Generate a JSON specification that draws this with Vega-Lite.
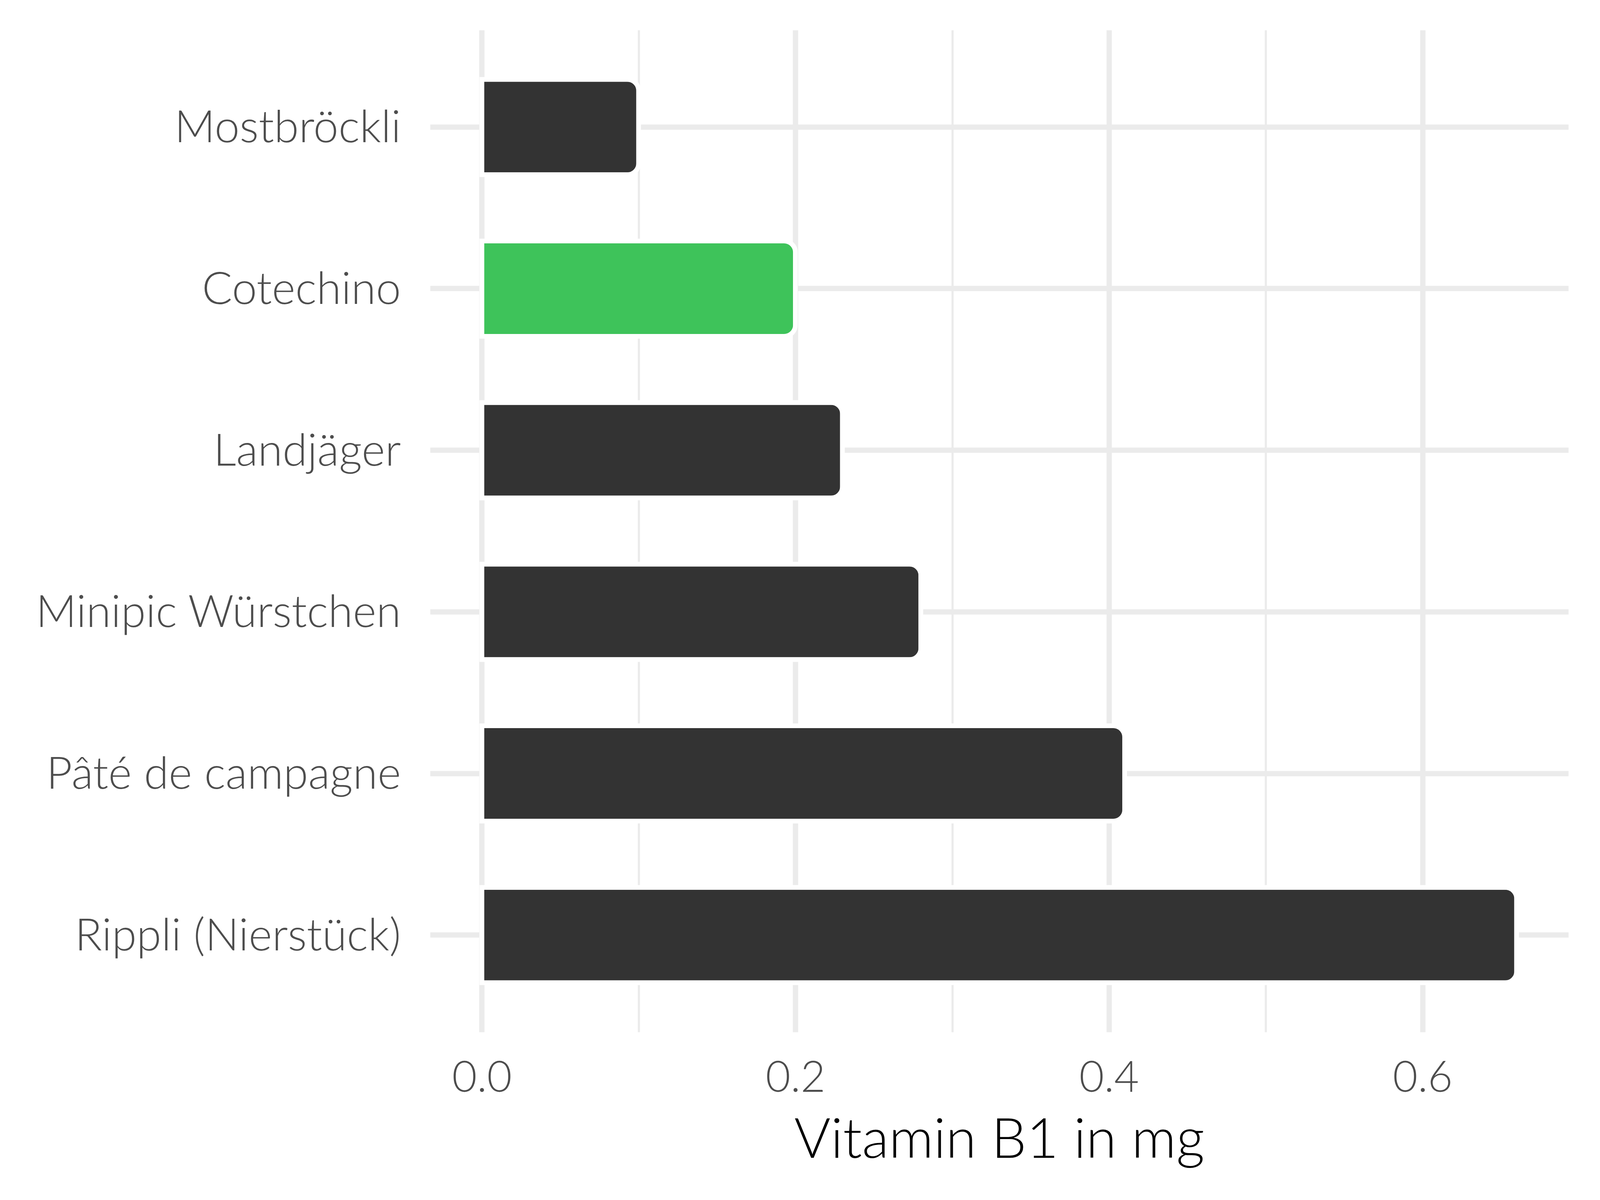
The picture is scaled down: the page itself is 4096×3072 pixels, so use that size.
{
  "$schema": "https://vega.github.io/schema/vega-lite/v6.json",
  "width": 2914,
  "height": 2565,
  "autosize": "none",
  "padding": {"left": 1101, "top": 77, "right": 81, "bottom": 430},
  "background": "white",
  "config": {"view": {"stroke": null}, "font": "Lato"},
  "data": {
    "values": [
      {"food": "Mostbröckli", "value": 0.1},
      {"food": "Cotechino", "value": 0.2},
      {"food": "Landjäger", "value": 0.23},
      {"food": "Minipic Würstchen", "value": 0.28},
      {"food": "Pâté de campagne", "value": 0.41},
      {"food": "Rippli (Nierstück)", "value": 0.66}
    ]
  },
  "mark": {"type": "bar", "cornerRadiusEnd": 29, "stroke": "white", "strokeWidth": 12},
  "encoding": {
    "y": {
      "field": "food",
      "type": "nominal",
      "sort": ["Mostbröckli", "Cotechino", "Landjäger", "Minipic Würstchen", "Pâté de campagne", "Rippli (Nierstück)"],
      "scale": {"paddingInner": 0.41, "paddingOuter": 0.305},
      "axis": {
        "title": null,
        "domain": false,
        "ticks": false,
        "grid": true,
        "bandPosition": 0.5,
        "gridColor": "#EBEBEB",
        "gridWidth": 13.6,
        "labelPadding": 75,
        "labelLimit": 3000,
        "labelFontSize": 115,
        "labelOffset": 4,
        "labelColor": "#4D4D4D",
        "labelFont": "Lato",
        "labelFontWeight": 300
      }
    },
    "x": {
      "field": "value",
      "type": "quantitative",
      "scale": {"domain": [-0.033, 0.693], "nice": false, "zero": false},
      "axis": {
        "title": "Vitamin B1 in mg",
        "values": [0, 0.1, 0.2, 0.3, 0.4, 0.5, 0.6],
        "labelExpr": "round(datum.value*10)%2==0 ? format(datum.value,'.1f') : ''",
        "labelOverlap": false,
        "labelBound": false,
        "labelFlush": false,
        "grid": true,
        "gridColor": "#EBEBEB",
        "gridWidth": {"condition": {"test": "round(datum.value*10)%2==0", "value": 13.6}, "value": 5.5},
        "domain": false,
        "ticks": false,
        "labelPadding": 65,
        "labelFontSize": 110,
        "labelColor": "#4D4D4D",
        "labelFont": "Lato",
        "labelFontWeight": 300,
        "titleFont": "Lato",
        "titleFontSize": 142,
        "titleColor": "#000000",
        "titleFontWeight": 300,
        "titlePadding": 35
      }
    },
    "color": {
      "condition": {"test": "datum.food === 'Cotechino'", "value": "#3EC35A"},
      "value": "#333333"
    }
  }
}
